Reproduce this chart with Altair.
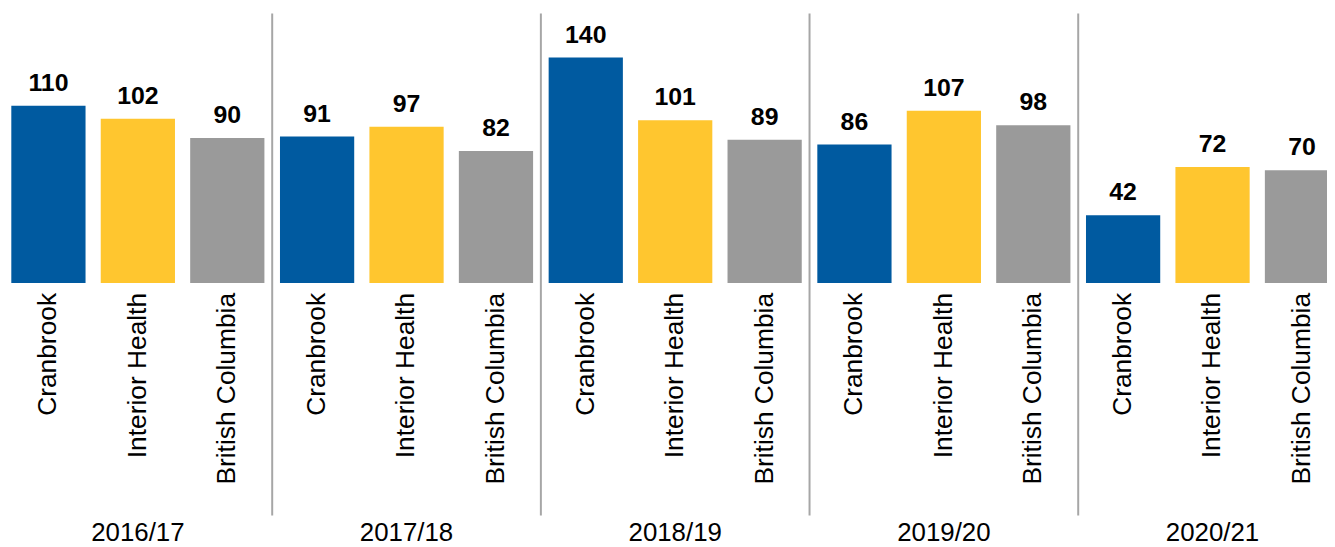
import altair as alt
import pandas as pd

years = ["2016/17", "2017/18", "2018/19", "2019/20", "2020/21"]
regions = ["Cranbrook", "Interior Health", "British Columbia"]
cranbrook = [110, 91, 140, 86, 42]
interior_health = [102, 97, 101, 107, 72]
british_columbia = [90, 82, 89, 98, 70]
colors = ["#005AA0", "#FFC62F", "#9A9A9A"]

rows = []
for i, y in enumerate(years):
    for r, vals in zip(regions, [cranbrook, interior_health, british_columbia]):
        rows.append({"year": y, "region": r, "value": vals[i]})
df = pd.DataFrame(rows)
sep_df = pd.DataFrame({"year": years[1:]})
year_df = pd.DataFrame({"year": years})

FONT = "Liberation Sans, Arial, sans-serif"

xscale = alt.Scale(domain=years, range=[-4.5, 1347], paddingInner=0, paddingOuter=0)
xoff = alt.XOffset("region:N", sort=regions,
                   scale=alt.Scale(domain=regions, paddingInner=0.17, paddingOuter=0.087))
yscale = alt.Scale(domain=[-162.96, 169.75], zero=False, nice=False)

x = alt.X("year:N", scale=xscale, axis=None, sort=years)
base = alt.Chart(df)

bars = base.mark_bar().encode(
    x=x,
    xOffset=xoff,
    y=alt.Y("value:Q", scale=yscale, axis=None),
    y2=alt.datum(0),
    color=alt.Color("region:N", scale=alt.Scale(domain=regions, range=colors), legend=None),
)

values = base.mark_text(font=FONT, fontSize=25, fontWeight="bold", baseline="alphabetic",
                        dy=-15, color="#000000").encode(
    x=x, xOffset=xoff,
    y=alt.Y("value:Q", scale=yscale, axis=None),
    text="value:Q",
)

cats = base.mark_text(font=FONT, fontSize=26.5, angle=270, align="right", baseline="middle",
                      dx=-10, color="#000000").encode(
    x=x, xOffset=xoff,
    y=alt.Y("zero:Q", scale=yscale, axis=None),
    text="region:N",
).transform_calculate(zero="0")

seps = alt.Chart(sep_df).mark_rule(color="#A6A6A6", strokeWidth=2).encode(
    x=alt.X("year:N", scale=xscale, axis=None, sort=years, bandPosition=0),
    y=alt.value(4),
    y2=alt.value(509),
)

year_labels = alt.Chart(year_df).mark_text(font=FONT, fontSize=26, baseline="alphabetic",
                                           color="#000000").encode(
    x=x,
    y=alt.value(535),
    text="year:N",
)

chart = alt.layer(seps, bars, values, cats, year_labels).properties(
    width=1327, height=539,
    autosize=alt.AutoSizeParams(type="none"),
    padding=0,
).configure_view(stroke=None)

chart.save("out.html", embed_options={"renderer": "svg", "actions": False})
